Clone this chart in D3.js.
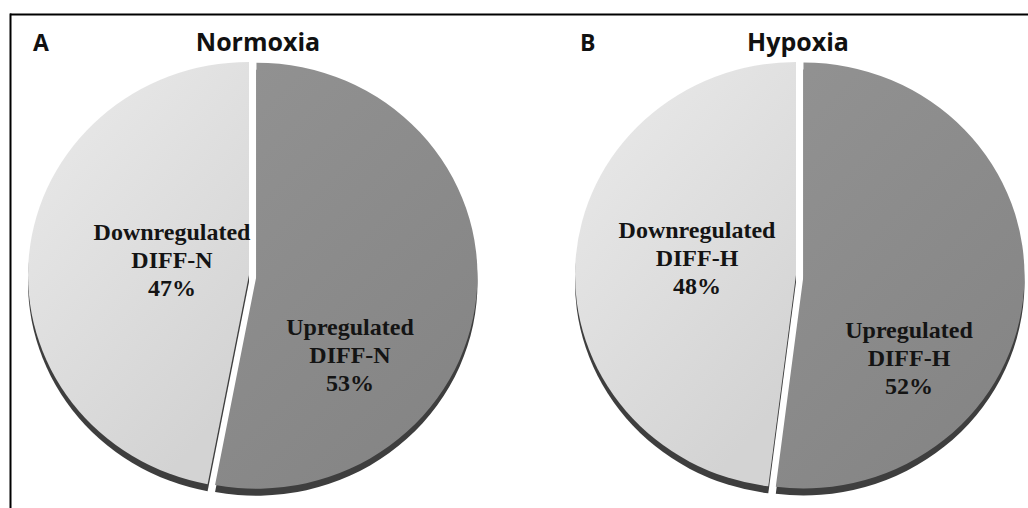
<!DOCTYPE html>
<html>
<head>
<meta charset="utf-8">
<script src="https://cdn.jsdelivr.net/npm/d3@7"></script>
<style>
  body { margin: 0; background: #fff; }
  svg { display: block; }
</style>
</head>
<body>
<svg id="chart" width="1028" height="508"></svg>
<script>
// Differentially expressed genes after differentiation, by oxygen condition
const panels = ["A", "B"];
const conditions = ["Normoxia", "Hypoxia"];
const categories = ["Upregulated", "Downregulated"];
const groupTags = ["DIFF-N", "DIFF-H"];
const upregulatedPct = [53, 52];
const downregulatedPct = [47, 48];

const W = 1028, H = 508;
const svg = d3.select("#chart");

// Geometry of the tilted pies
const centersX = [249, 796];
const centerY = 275;
const rx = 221, ry = 213;
const explode = 7.5;   // the upregulated slice is pulled out slightly
const depth = 7;       // thickness of the 3D rim

// Label anchors, relative to the pie centre (screen px)
const labelOffsets = [
  { Upregulated: [101, 80], Downregulated: [-77, -15] },
  { Upregulated: [113, 83], Downregulated: [-99, -17] }
];
const titleOffsets = [9, 2];

const defs = svg.append("defs");
const lightGrad = defs.append("linearGradient").attr("id", "gLight")
  .attr("x1", 0).attr("y1", 0).attr("x2", 0.6).attr("y2", 1);
lightGrad.append("stop").attr("offset", 0).attr("stop-color", "#ebebeb");
lightGrad.append("stop").attr("offset", 1).attr("stop-color", "#d3d3d3");
const darkGrad = defs.append("linearGradient").attr("id", "gDark")
  .attr("x1", 0).attr("y1", 0).attr("x2", 0.6).attr("y2", 1);
darkGrad.append("stop").attr("offset", 0).attr("stop-color", "#929292");
darkGrad.append("stop").attr("offset", 1).attr("stop-color", "#858585");

const fillFor = { Upregulated: "url(#gDark)", Downregulated: "url(#gLight)" };

// Frame
svg.append("line").attr("x1", 10).attr("x2", W).attr("y1", 14.5).attr("y2", 14.5)
  .attr("stroke", "#000").attr("stroke-width", 2);
svg.append("line").attr("x1", 10.5).attr("x2", 10.5).attr("y1", 13.5).attr("y2", H)
  .attr("stroke", "#000").attr("stroke-width", 2);

const pie = d3.pie().sort(null).value(d => d.value)
  .startAngle(0).endAngle(2 * Math.PI);
const arc = d3.arc().innerRadius(0).outerRadius(rx);
const k = ry / rx;

panels.forEach((panel, i) => {
  const cx = centersX[i];
  const data = [
    { cat: categories[0], value: upregulatedPct[i] },
    { cat: categories[1], value: downregulatedPct[i] }
  ];
  const arcs = pie(data);
  const shift = d => {
    if (d.data.cat !== "Upregulated") return [0, 0];
    const a = (d.startAngle + d.endAngle) / 2;
    return [explode * Math.sin(a), -explode * Math.cos(a)];
  };

  // Rim (drawn first, offset downward)
  const rim = svg.append("g").attr("transform", `translate(${cx},${centerY + depth}) scale(1,${k})`);
  rim.selectAll("path").data(arcs).join("path")
    .attr("d", arc)
    .attr("transform", d => `translate(${shift(d)})`)
    .attr("fill", "#3e3e3e");

  // Top surface
  const top = svg.append("g").attr("transform", `translate(${cx},${centerY}) scale(1,${k})`);
  top.selectAll("path").data(arcs).join("path")
    .attr("d", arc)
    .attr("transform", d => `translate(${shift(d)})`)
    .attr("fill", d => fillFor[d.data.cat]);

  // Slice labels
  arcs.forEach(d => {
    const [ox, oy] = labelOffsets[i][d.data.cat];
    const lines = [d.data.cat, groupTags[i], d.data.value + "%"];
    const t = svg.append("text")
      .attr("x", cx + ox).attr("y", centerY + oy)
      .attr("text-anchor", "middle")
      .attr("font-family", "'Liberation Serif', 'Times New Roman', serif")
      .attr("font-weight", "bold").attr("font-size", 24)
      .attr("fill", "#141414");
    lines.forEach((s, j) => {
      t.append("tspan").attr("x", cx + ox).attr("dy", j === 0 ? "-0.85em" : "1.17em").text(s);
    });
  });

  // Panel letter and title
  svg.append("text").attr("x", cx - 216).attr("y", 51)
    .attr("font-family", "'Open Sans', sans-serif").attr("font-weight", "bold")
    .attr("font-size", 23).attr("fill", "#111").text(panel);
  svg.append("text").attr("x", cx + titleOffsets[i]).attr("y", 51).attr("text-anchor", "middle")
    .attr("font-family", "'Open Sans', sans-serif").attr("font-weight", "bold")
    .attr("font-size", 25).attr("fill", "#111").text(conditions[i]);
});
</script>
</body>
</html>
